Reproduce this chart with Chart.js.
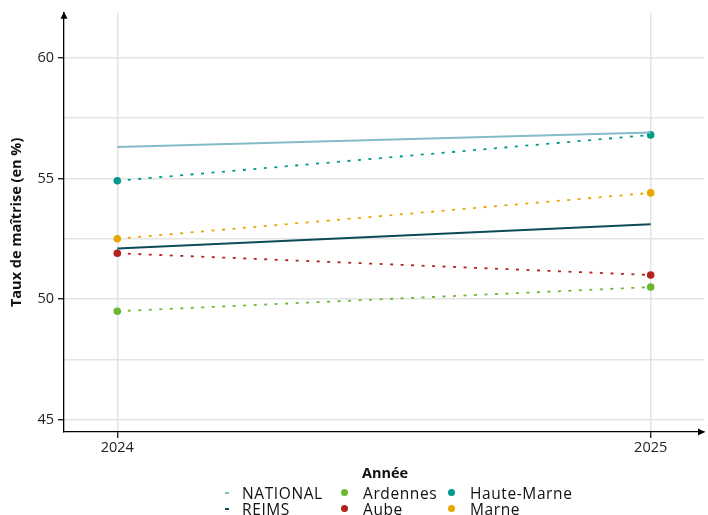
<!DOCTYPE html>
<html>
<head>
<meta charset="utf-8">
<script src="https://cdn.jsdelivr.net/npm/chart.js@4"></script>
<style>
  html, body { margin: 0; padding: 0; background: #fff; }
  #wrap { position: relative; width: 708px; height: 515px; }
  #legend { position: absolute; left: 0; top: 0; width: 708px; height: 515px; pointer-events: none;
            font-family: "Open Sans", sans-serif; color: #111; }
  .lg-title { position: absolute; top: 463px; left: 0; width: 770px; text-align: center; font-weight: bold; font-size: 14.5px; }
  .lg-item { position: absolute; font-size: 15.5px; line-height: 16px; letter-spacing: 0.6px; white-space: nowrap; }
  .lg-sym { position: absolute; top: 0; width: 12px; height: 16px; }
  .lg-dot { position: absolute; left: 2px; top: 4px; width: 7px; height: 7px; border-radius: 50%; }
  .lg-dash { position: absolute; left: 3px; top: 7px; width: 4px; height: 2px; }
</style>
</head>
<body>
<div id="wrap">
  <canvas id="tauxChart" width="708" height="515"></canvas>
  <div id="legend"></div>
</div>
<script>
// Données
var annees = [2024, 2025];
var tickValeurs = [45, 47.5, 50, 52.5, 55, 57.5, 60];

var nomsSeries = ['NATIONAL', 'REIMS', 'Ardennes', 'Aube', 'Haute-Marne', 'Marne'];
var national = [56.3, 56.9];
var reims = [52.1, 53.1];
var ardennes = [49.5, 50.5];
var aube = [51.9, 51.0];
var hauteMarne = [54.9, 56.8];
var marne = [52.5, 54.4];

var couleurs = {
    'NATIONAL': '#84BCC8',
    'REIMS': '#0B4B55',
    'Ardennes': '#6DB833',
    'Aube': '#B3241F',
    'Haute-Marne': '#00998A',
    'Marne': '#E6A700'
};

function points(valeurs) {
    return valeurs.map(function (v, i) { return { x: annees[i], y: v }; });
}

function serieRef(nom, valeurs) {
    return {
        label: nom,
        data: points(valeurs),
        borderColor: couleurs[nom],
        backgroundColor: couleurs[nom],
        borderWidth: 1.9,
        pointRadius: 0,
        pointHoverRadius: 0,
        fill: false
    };
}

function serieDep(nom, valeurs) {
    return {
        label: nom,
        data: points(valeurs),
        borderColor: couleurs[nom],
        backgroundColor: couleurs[nom],
        borderWidth: 1.8,
        borderDash: [3, 7.5],
        pointRadius: 3.8,
        pointBorderWidth: 0,
        pointBackgroundColor: couleurs[nom],
        fill: false
    };
}

// flèches au bout des axes
var flechesAxes = {
    id: 'flechesAxes',
    afterDraw: function (chart) {
        var ctx = chart.ctx;
        var a = chart.chartArea;
        ctx.save();
        ctx.fillStyle = '#000';
        ctx.beginPath();
        ctx.moveTo(a.left, a.top - 1);
        ctx.lineTo(a.left - 3.5, a.top + 6);
        ctx.lineTo(a.left + 3.5, a.top + 6);
        ctx.closePath();
        ctx.fill();
        ctx.beginPath();
        ctx.moveTo(a.right + 1, a.bottom);
        ctx.lineTo(a.right - 6, a.bottom - 3.5);
        ctx.lineTo(a.right - 6, a.bottom + 3.5);
        ctx.closePath();
        ctx.fill();
        ctx.restore();
    }
};

document.addEventListener('DOMContentLoaded', function () {
    var ctx = document.getElementById('tauxChart').getContext('2d');

    window.tauxChartInstance = new Chart(ctx, {
        type: 'line',
        data: {
            datasets: [
                serieRef('NATIONAL', national),
                serieRef('REIMS', reims),
                serieDep('Ardennes', ardennes),
                serieDep('Aube', aube),
                serieDep('Haute-Marne', hauteMarne),
                serieDep('Marne', marne)
            ]
        },
        options: {
            responsive: false,
            animation: false,
            layout: { padding: { left: 0, top: 12, right: 2, bottom: 53 } },
            plugins: {
                legend: { display: false },
                tooltip: { enabled: false }
            },
            scales: {
                x: {
                    type: 'linear',
                    min: 2023.9,
                    max: 2025.1,
                    afterBuildTicks: function (scale) {
                        scale.ticks = annees.map(function (v) { return { value: v }; });
                    },
                    afterFit: function (scale) { scale.height = 30; },
                    ticks: {
                        color: '#222',
                        font: { family: 'Open Sans', size: 14.5 },
                        padding: 1,
                        callback: function (v) { return String(v); }
                    },
                    grid: { color: '#e3e3e3', lineWidth: 1.5, tickColor: '#000', tickLength: 6, tickWidth: 1.2 },
                    border: { color: '#000', width: 1.3 }
                },
                y: {
                    min: 44.5,
                    max: 61.86,
                    afterBuildTicks: function (scale) {
                        scale.ticks = tickValeurs.map(function (v) { return { value: v }; });
                    },
                    afterFit: function (scale) { scale.width = 64; },
                    ticks: {
                        color: '#222',
                        font: { family: 'Open Sans', size: 14.5 },
                        padding: 4,
                        callback: function (v) { return v % 5 === 0 ? String(v) : ''; }
                    },
                    grid: {
                        color: '#e3e3e3',
                        lineWidth: 1.5,
                        tickLength: 6,
                        tickWidth: 1.2,
                        tickColor: function (c) { return c.tick && c.tick.value % 5 === 0 ? '#000' : 'rgba(0,0,0,0)'; }
                    },
                    border: { color: '#000', width: 1.3 },
                    title: {
                        display: true,
                        text: 'Taux de maîtrise (en %)',
                        color: '#111',
                        font: { family: 'Open Sans', size: 14.5, weight: 'bold' },
                        padding: { top: 8, bottom: 0 }
                    }
                }
            }
        },
        plugins: [flechesAxes]
    });

    // légende en 3 colonnes (comme l'original)
    var legende = document.getElementById('legend');
    var titre = document.createElement('div');
    titre.className = 'lg-title';
    titre.textContent = 'Année';
    legende.appendChild(titre);

    var colonnesX = [222, 339, 446];
    var lignesY = [485, 501];
    nomsSeries.forEach(function (nom, i) {
        var col = Math.floor(i / 2), lig = i % 2;
        var item = document.createElement('div');
        item.className = 'lg-item';
        item.style.left = colonnesX[col] + 'px';
        item.style.top = lignesY[lig] + 'px';
        var sym = document.createElement('span');
        sym.className = 'lg-sym';
        var marque = document.createElement('span');
        marque.className = col === 0 ? 'lg-dash' : 'lg-dot';
        marque.style.background = couleurs[nom];
        sym.appendChild(marque);
        item.appendChild(sym);
        var txt = document.createElement('span');
        txt.style.marginLeft = (col === 0 ? 20 : 24) + 'px';
        txt.textContent = nom;
        item.appendChild(txt);
        legende.appendChild(item);
    });
});
</script>
</body>
</html>
